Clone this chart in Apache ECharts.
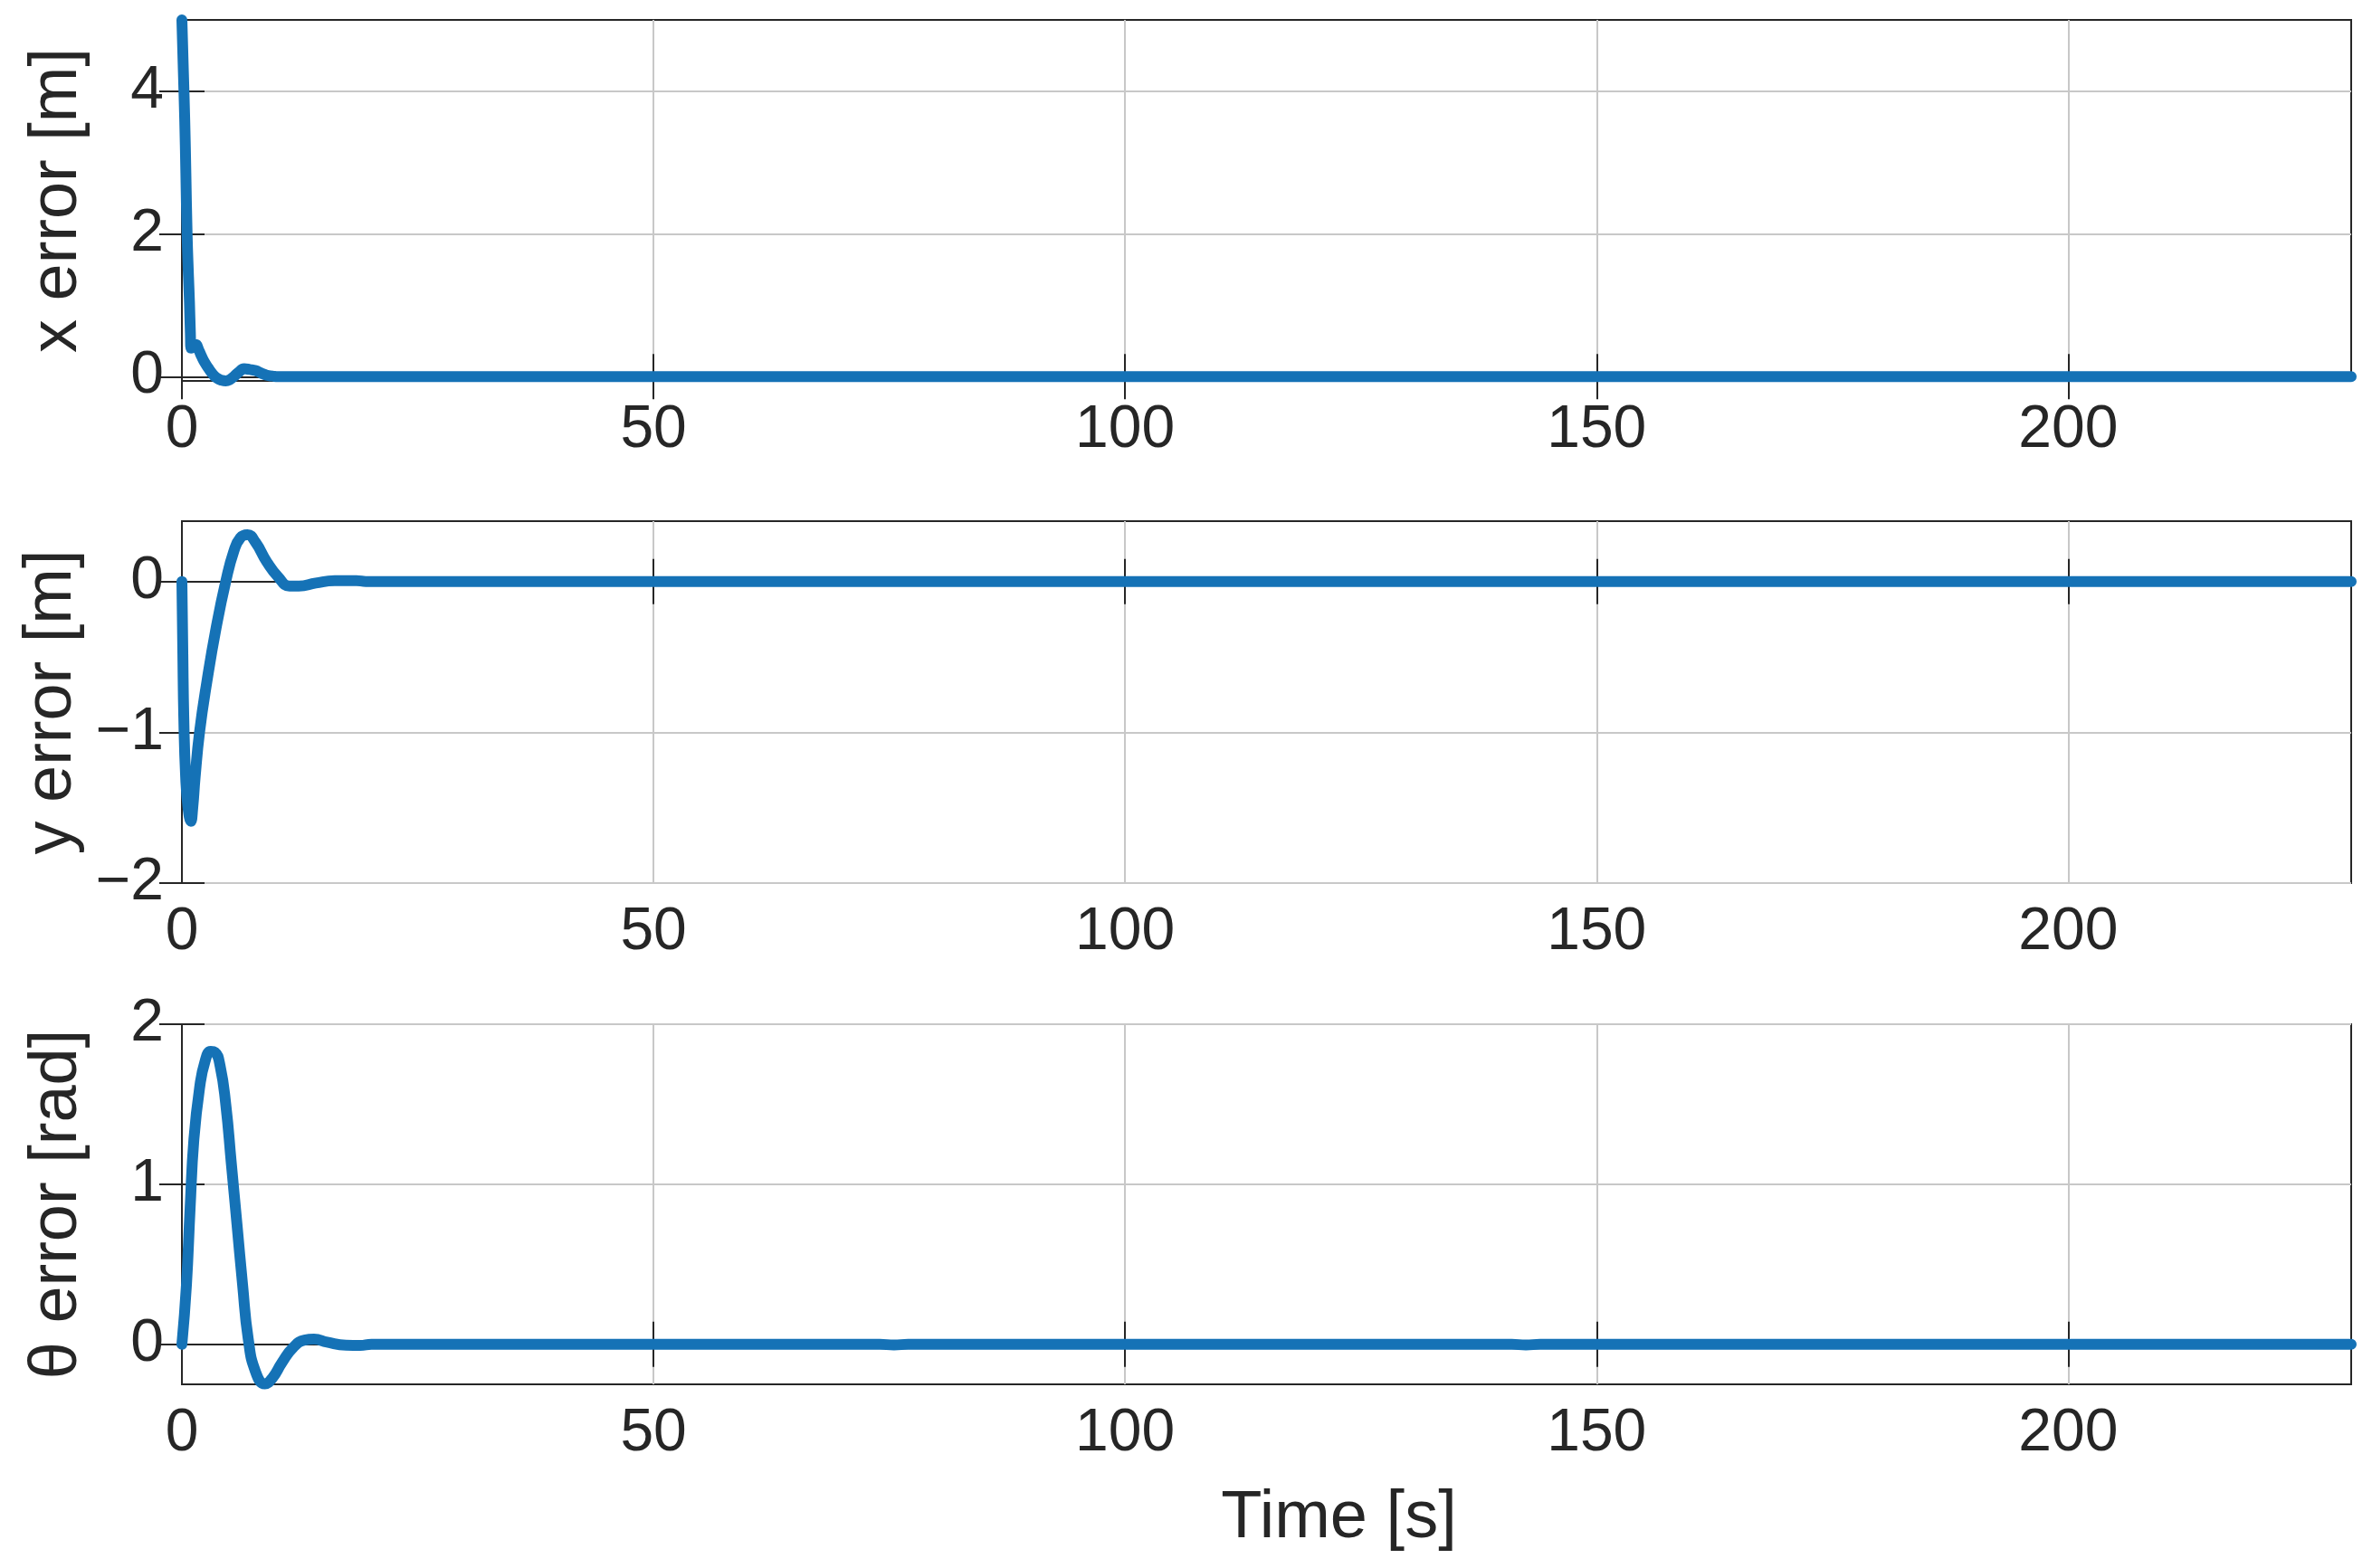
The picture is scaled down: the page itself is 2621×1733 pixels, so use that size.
<!DOCTYPE html>
<html>
<head>
<meta charset="utf-8">
<script src="https://cdn.jsdelivr.net/npm/echarts@6/dist/echarts.min.js"></script>
<style>
  html, body { margin: 0; padding: 0; background: #fff; }
  #chart { width: 2621px; height: 1733px; }
</style>
</head>
<body>
<div id="chart"></div>
<script>
// time [s] and error values
var xErrT = [0, 0.15, 0.3, 0.42, 0.55, 0.7, 0.8, 0.9, 0.97, 1.15, 1.45, 1.8, 2.1, 2.5, 2.9, 3.3, 3.7, 4.2, 4.65, 5.1, 5.5, 6.0, 6.6, 7.2, 7.8, 8.4, 9.0, 9.6, 10.2, 230];
var xErrV = [5.0, 4.3, 3.6, 2.85, 2.0, 1.4, 1.05, 0.6, 0.4, 0.44, 0.45, 0.37, 0.28, 0.18, 0.1, 0.03, -0.02, -0.05, -0.06, -0.04, 0.0, 0.06, 0.11, 0.1, 0.085, 0.05, 0.02, 0.008, 0, 0];

var yErrT = [0, 0.1, 0.2, 0.4, 0.65, 0.95, 1.15, 1.4, 1.87, 2.66, 3.65, 4.65, 5.5, 6.2, 6.95, 7.8, 9.0, 10.2, 11.4, 12.4, 14.2, 16.2, 18.5, 19.5, 230];
var yErrV = [0, -0.48, -0.9, -1.3, -1.5, -1.59, -1.5, -1.3, -1.0, -0.66, -0.3, 0.0, 0.2, 0.29, 0.31, 0.26, 0.13, 0.03, -0.03, -0.03, -0.01, 0.005, 0.006, 0, 0];

var thT = [0, 0.48, 0.87, 1.27, 1.87, 2.46, 3.06, 3.5, 4.05, 4.65, 5.24, 5.84, 6.43, 7.03, 7.8, 8.8, 9.6, 10.6, 11.8, 13.0, 14.0, 15.4, 17.4, 18.9, 20.1, 74, 75.5, 77, 141, 142.5, 144, 230];
var thV = [0, 0.37, 0.85, 1.28, 1.6, 1.77, 1.83, 1.825, 1.74, 1.5, 1.13, 0.75, 0.375, 0.035, -0.17, -0.247, -0.21, -0.115, -0.02, 0.026, 0.032, 0.013, -0.006, -0.007, 0, 0, -0.004, 0, 0, -0.004, 0, 0];

var xTicks = [0, 50, 100, 150, 200];
var xErrTicks = [0, 2, 4];
var yErrTicks = [-2, -1, 0];
var thTicks = [0, 1, 2];

var yNames = ['x error [m]', 'y error [m]', 'θ error [rad]'];
var yLims = [[-0.06, 5], [-2, 0.4], [-0.25, 2]];
var yTickSets = [xErrTicks, yErrTicks, thTicks];

function pairs(t, v) {
    var out = [];
    for (var i = 0; i < t.length; i++) out.push([t[i], v[i]]);
    return out;
}

var font = '"Liberation Sans", Arial, Helvetica, sans-serif';
var ink = '#262626';
var tops = [22, 576, 1132];
var heights = [399, 400, 398];

var grids = [], xAxes = [], yAxes = [], series = [];
var seriesData = [pairs(xErrT, xErrV), pairs(yErrT, yErrV), pairs(thT, thV)];

for (var i = 0; i < 3; i++) {
    grids.push({
        left: 201, right: 23, top: tops[i], height: heights[i],
        show: true, borderColor: ink, borderWidth: 2, backgroundColor: '#fff'
    });
    // bottom x axis
    xAxes.push({
        type: 'value', gridIndex: i, min: 0, max: 230, position: 'bottom',
        name: i === 2 ? 'Time [s]' : '', nameLocation: 'middle', nameGap: 112,
        nameTextStyle: { fontFamily: font, fontSize: 74, color: ink, padding: [0, 0, 0, 160] },
        axisLine: { show: true, lineStyle: { color: ink, width: 2 } },
        axisTick: { show: true, inside: true, length: 25, customValues: xTicks, lineStyle: { color: ink, width: 2 } },
        axisLabel: { customValues: xTicks, fontFamily: font, fontSize: 66, color: ink, margin: 22 },
        splitLine: { show: true, lineStyle: { color: '#c8c8c8', width: 2 } }
    });
    // top mirror x axis
    xAxes.push({
        type: 'value', gridIndex: i, min: 0, max: 230, position: 'top',
        axisLine: { show: true, lineStyle: { color: ink, width: 2 } },
        axisTick: { show: true, inside: true, length: 25, customValues: xTicks, lineStyle: { color: ink, width: 2 } },
        axisLabel: { show: false, customValues: xTicks },
        splitLine: { show: false }
    });
    var fmt = function (v) { return String(v).replace('-', '\u2212'); };
    yAxes.push({
        type: 'value', gridIndex: i, min: yLims[i][0], max: yLims[i][1], position: 'left',
        name: yNames[i], nameLocation: 'middle', nameGap: 100, nameRotate: 90,
        nameTextStyle: { fontFamily: font, fontSize: 74, color: ink },
        axisLine: { show: true, lineStyle: { color: ink, width: 2 } },
        axisTick: { show: true, inside: true, length: 25, customValues: yTickSets[i], lineStyle: { color: ink, width: 2 } },
        axisLabel: { customValues: yTickSets[i], formatter: fmt, fontFamily: font, fontSize: 66, color: ink, margin: 20 },
        splitLine: { show: true, lineStyle: { color: '#c8c8c8', width: 2 } }
    });
    yAxes.push({
        type: 'value', gridIndex: i, min: yLims[i][0], max: yLims[i][1], position: 'right',
        axisLine: { show: true, lineStyle: { color: ink, width: 2 } },
        axisTick: { show: true, inside: true, length: 25, customValues: yTickSets[i], lineStyle: { color: ink, width: 2 } },
        axisLabel: { show: false, customValues: yTickSets[i] },
        splitLine: { show: false }
    });
    series.push({
        type: 'line', xAxisIndex: i * 2, yAxisIndex: i * 2,
        data: seriesData[i], showSymbol: false, smooth: 0.5,
        lineStyle: { color: '#1572B6', width: 12, join: 'round', cap: 'round' },
        clip: true, z: 5
    });
}

var myChart = echarts.init(document.getElementById('chart'));
myChart.setOption({
    animation: false,
    backgroundColor: '#fff',
    grid: grids,
    xAxis: xAxes,
    yAxis: yAxes,
    series: series
});
</script>
</body>
</html>
